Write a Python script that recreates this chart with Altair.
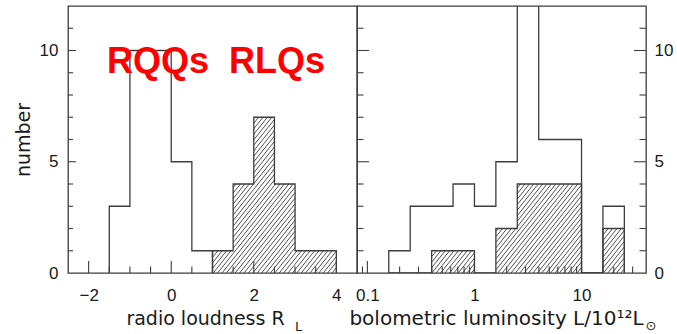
import altair as alt
import numpy as np
import pandas as pd

# ---- data -------------------------------------------------------------
# radio loudness R_L, bins of 0.5
rl_rqq_edges = [-1.5, -1.0, -0.5, 0.0, 0.5, 1.0]
rl_rqq_counts = [3, 10, 10, 5, 1]
rl_rlq_edges = [1.0, 1.5, 2.0, 2.5, 3.0, 3.5, 4.0]
rl_rlq_counts = [1, 4, 7, 4, 1, 1]

# bolometric luminosity, log10(L / 1e12 Lsun) bins of 0.2 dex
lum_edges_log = [-0.8, -0.6, -0.4, -0.2, 0.0, 0.2, 0.4, 0.6, 0.8, 1.0, 1.2, 1.4]
lum_all_counts = [1, 3, 3, 4, 3, 5, 13, 6, 6, 0, 3]
lum_rlq_counts = [0, 0, 1, 1, 0, 2, 4, 4, 4, 0, 2]

rl_ticks = [-2.0, -1.5, -1.0, -0.5, 0.0, 0.5, 1.0, 1.5, 2.0, 2.5, 3.0, 3.5, 4.0]
rl_major = [-2.0, 0.0, 2.0, 4.0]
lum_ticks = [0.09, 0.1, 0.2, 0.3, 0.4, 0.5, 0.6, 0.7, 0.8, 0.9,
             1, 2, 3, 4, 5, 6, 7, 8, 9, 10, 20, 30]
lum_major = [0.1, 1, 10]
y_ticks = [1, 2, 3, 4, 5, 6, 7, 8, 9, 10, 11]
y_major = [5, 10]

# ---- styling ----------------------------------------------------------
LINE = "#3d3d3d"
TEXT = "#1a1a1a"
W, H = 289, 267
RL_DOM = [-2.5, 4.5]
LUM_DOM = [0.08, 40.0]
Y_DOM = [0, 12]
SY = H / (Y_DOM[1] - Y_DOM[0])
SX_RL = W / (RL_DOM[1] - RL_DOM[0])
SX_LUM = W / (np.log10(LUM_DOM[1]) - np.log10(LUM_DOM[0]))
LABEL_FONT = "Liberation Sans"
TITLE_FONT = "DejaVu Sans"


def step_outline(edges, counts):
    xs, ys = [edges[0]], [0]
    for i, c in enumerate(counts):
        xs += [edges[i], edges[i + 1]]
        ys += [c, c]
    xs.append(edges[-1])
    ys.append(0)
    return pd.DataFrame({"x": xs, "y": ys, "k": range(len(xs))})


def hatch(edges_t, counts, t0, sx, spacing=4.4, slope=1.25):
    """Diagonal hatch segments (in screen-like units) clipped to each bin."""
    rows = []
    for i, cnt in enumerate(counts):
        if cnt <= 0:
            continue
        u0 = (edges_t[i] - t0) * sx
        u1 = (edges_t[i + 1] - t0) * sx
        vh = cnt * SY
        n0 = int(np.floor((u0 - vh / slope) / spacing))
        n1 = int(np.ceil(u1 / spacing))
        for n in range(n0, n1 + 1):
            c = n * spacing
            ua = max(u0, c)
            ub = min(u1, c + vh / slope)
            if ub - ua > 0.05:
                rows.append((ua / sx + t0, slope * (ua - c) / SY,
                             ub / sx + t0, slope * (ub - c) / SY))
    return pd.DataFrame(rows, columns=["x", "y", "x2", "y2"])


def x_rl():
    return alt.X("x:Q", scale=alt.Scale(domain=RL_DOM, nice=False, zero=False),
                 axis=alt.Axis(values=rl_major, ticks=False, tickSize=0, domain=False,
                               grid=False, labelFont=LABEL_FONT, labelFontSize=17,
                               labelColor=TEXT, labelPadding=14, labelFlush=False,
                               title="radio loudness R", titleFont=TITLE_FONT,
                               titleFontSize=19, titleFontWeight="normal",
                               titleColor=TEXT, titlePadding=6, titleX=137))


def x_lum():
    return alt.X("x:Q", scale=alt.Scale(type="log", domain=LUM_DOM, nice=False),
                 axis=alt.Axis(values=lum_major, format="~g", ticks=False, tickSize=0,
                               domain=False, grid=False, labelFont=LABEL_FONT,
                               labelFontSize=17, labelColor=TEXT, labelPadding=14,
                               labelFlush=False,
                               title="bolometric luminosity L/10¹²L",
                               titleFont=TITLE_FONT, titleFontSize=20,
                               titleFontWeight="normal", titleColor=TEXT,
                               titlePadding=5, titleX=139))


def y_left():
    return alt.Y("y:Q", scale=alt.Scale(domain=Y_DOM, nice=False),
                 axis=alt.Axis(values=[0, 5, 10], ticks=False, tickSize=0, domain=False,
                               grid=False, labelFont=LABEL_FONT, labelFontSize=17,
                               labelColor=TEXT, labelPadding=10, title="number",
                               titleFont=TITLE_FONT, titleFontSize=19,
                               titleFontWeight="normal", titleColor=TEXT,
                               titleX=-39, titleBaseline="alphabetic"))


def y_right():
    return alt.Y("y:Q", scale=alt.Scale(domain=Y_DOM, nice=False),
                 axis=alt.Axis(orient="right", values=[0, 5, 10], ticks=False,
                               tickSize=0, domain=False, grid=False,
                               labelFont=LABEL_FONT, labelFontSize=17,
                               labelColor=TEXT, labelPadding=8, title=None))


def x_ticks(vals, xenc, length):
    return alt.Chart(pd.DataFrame({"x": vals})).mark_rule(
        color=LINE, strokeWidth=1.1).encode(
        x=xenc(), y=alt.value(H), y2=alt.value(H - length))


def y_ticks_at(vals, yenc, x0, x1):
    return alt.Chart(pd.DataFrame({"y": vals})).mark_rule(
        color=LINE, strokeWidth=1.1).encode(
        y=yenc(), x=alt.value(x0), x2=alt.value(x1))


def outline(df, xenc, yenc):
    return alt.Chart(df).mark_line(color=LINE, strokeWidth=1.3, clip=True).encode(
        x=xenc(), y=yenc(), order="k:Q")


def hatch_layer(df, xenc, yenc):
    return alt.Chart(df).mark_rule(color=LINE, strokeWidth=0.9).encode(
        x=xenc(), y=yenc(), x2="x2:Q", y2="y2:Q")


def text_at(label, x, y, size, color, weight="normal", font=TITLE_FONT, align="left"):
    return alt.Chart(pd.DataFrame({"t": [label]})).mark_text(
        font=font, fontSize=size, fontWeight=weight, color=color, align=align,
        baseline="alphabetic").encode(text="t:N", x=alt.value(x), y=alt.value(y))


# ---- left panel: radio loudness ---------------------------------------
rl_hatch = hatch(rl_rlq_edges, rl_rlq_counts, RL_DOM[0], SX_RL)

left = alt.layer(
    hatch_layer(rl_hatch, x_rl, y_left),
    outline(step_outline(rl_rqq_edges, rl_rqq_counts), x_rl, y_left),
    outline(step_outline(rl_rlq_edges, rl_rlq_counts), x_rl, y_left),
    x_ticks([v for v in rl_ticks if v not in rl_major], x_rl, 6.5),
    x_ticks(rl_major, x_rl, 12),
    y_ticks_at([v for v in y_ticks if v not in y_major], y_left, 0, 5),
    y_ticks_at(y_major, y_left, 0, 8),
    text_at("RQQs", 39, 67, 36, "#ff0000", "bold", "Liberation Sans"),
    text_at("RLQs", 161, 67, 36, "#ff0000", "bold", "Liberation Sans"),
    text_at("L", 227, 325, 13, TEXT),
).properties(width=W, height=H)

# ---- right panel: bolometric luminosity --------------------------------
lum_edges = [10 ** e for e in lum_edges_log]
lum_hatch = hatch(lum_edges_log, lum_rlq_counts, np.log10(LUM_DOM[0]), SX_LUM)
lum_hatch["x"] = 10 ** lum_hatch["x"]
lum_hatch["x2"] = 10 ** lum_hatch["x2"]

right = alt.layer(
    hatch_layer(lum_hatch, x_lum, y_right),
    outline(step_outline(lum_edges, lum_all_counts), x_lum, y_right),
    outline(step_outline(lum_edges, lum_rlq_counts), x_lum, y_right),
    x_ticks([v for v in lum_ticks if v not in lum_major], x_lum, 6.5),
    x_ticks(lum_major, x_lum, 12),
    y_ticks_at([v for v in y_ticks if v not in y_major], y_right, 0, 6.5),
    y_ticks_at(y_major, y_right, 0, 12),
    y_ticks_at([v for v in y_ticks if v not in y_major], y_right, W, W - 6.5),
    y_ticks_at(y_major, y_right, W, W - 12),
    text_at("⊙", 294, 324, 13, TEXT, align="center"),
).properties(width=W, height=H)

chart = alt.hconcat(left, right, spacing=0, bounds="flush").properties(
    padding={"left": 13, "top": 5, "right": 0, "bottom": 0},
    background="white",
).configure_view(stroke=LINE, strokeWidth=1.3)

chart.save("out.html", embed_options={"renderer": "svg", "actions": False})
